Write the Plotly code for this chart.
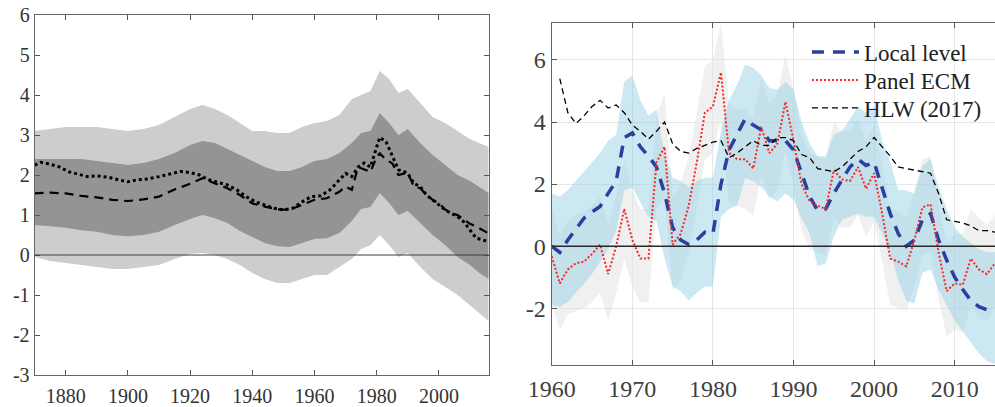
import plotly.graph_objects as go

# ---------------- Left panel data ----------------
band_years = [1870,1875,1880,1885,1890,1895,1900,1905,1910,1915,1920,1924,1928,1932,1936,1940,1944,1948,1952,1956,1960,1964,1968,1972,1975,1978,1981,1984,1987,1990,1994,1998,2002,2006,2010,2013,2016]
light_upper = [3.1,3.15,3.2,3.2,3.2,3.15,3.1,3.15,3.25,3.45,3.65,3.75,3.65,3.5,3.3,3.1,3.1,3.05,3.05,3.2,3.3,3.35,3.5,3.9,4.0,4.1,4.6,4.4,4.05,4.15,3.8,3.45,3.3,3.1,2.9,2.8,2.7]
light_lower = [-0.05,-0.15,-0.2,-0.25,-0.3,-0.35,-0.35,-0.3,-0.25,-0.1,0.03,0.05,0.0,-0.1,-0.25,-0.45,-0.6,-0.7,-0.7,-0.6,-0.5,-0.5,-0.3,-0.1,0.15,0.25,0.5,0.25,-0.05,0.05,-0.3,-0.6,-0.8,-1.0,-1.25,-1.45,-1.65]
dark_upper = [2.4,2.4,2.4,2.4,2.35,2.3,2.25,2.3,2.4,2.55,2.75,2.85,2.8,2.65,2.5,2.35,2.2,2.1,2.1,2.2,2.35,2.4,2.55,2.8,3.05,3.1,3.55,3.3,3.0,3.15,2.8,2.5,2.25,2.0,1.85,1.7,1.55]
dark_lower = [0.75,0.72,0.68,0.62,0.58,0.5,0.47,0.5,0.58,0.75,0.9,1.0,0.92,0.8,0.6,0.45,0.3,0.22,0.2,0.3,0.4,0.42,0.55,0.85,1.15,1.2,1.55,1.3,1.0,1.1,0.8,0.5,0.25,-0.05,-0.25,-0.45,-0.6]

dot_years = [1870,1872,1875,1878,1881,1884,1887,1890,1894,1897,1900,1903,1906,1910,1914,1917,1920,1923,1926,1929,1932,1935,1938,1941,1944,1947,1950,1953,1956,1959,1962,1965,1968,1970,1972,1974,1976,1978,1980,1981,1983,1985,1987,1989,1990,1992,1994,1996,1998,2000,2002,2004,2006,2008,2010,2012,2014,2016]
dot_values = [2.25,2.32,2.27,2.2,2.08,2.02,1.96,1.98,1.94,1.88,1.83,1.88,1.9,1.96,2.04,2.09,2.06,2.0,1.88,1.81,1.75,1.63,1.46,1.33,1.25,1.17,1.13,1.17,1.33,1.46,1.48,1.63,1.88,2.04,1.96,2.2,2.3,2.2,2.7,2.94,2.83,2.46,2.13,2.08,2.04,1.79,1.71,1.5,1.38,1.25,1.13,1.04,0.96,0.83,0.63,0.42,0.38,0.33]

dash_years = [1870,1875,1880,1885,1890,1895,1900,1905,1910,1915,1920,1924,1928,1932,1936,1940,1944,1948,1952,1956,1960,1964,1968,1970,1972,1974,1976,1978,1980,1981,1983,1985,1987,1989,1990,1992,1994,1996,1998,2000,2002,2004,2006,2008,2010,2012,2014,2016]
dash_values = [1.54,1.56,1.54,1.48,1.44,1.38,1.35,1.39,1.46,1.64,1.78,1.92,1.79,1.67,1.5,1.29,1.21,1.14,1.13,1.25,1.38,1.42,1.58,1.71,1.63,2.2,2.13,2.08,2.46,2.54,2.38,2.29,2.0,2.04,2.04,1.71,1.67,1.5,1.38,1.29,1.14,1.04,1.0,0.88,0.78,0.71,0.63,0.54]

left_xticks = [1880, 1900, 1920, 1940, 1960, 1980, 2000]
left_yticks = [-3, -2, -1, 0, 1, 2, 3, 4, 5, 6]

# ---------------- Right panel data ----------------
years_r = list(range(1960, 2016))
local_level = [0.0,-0.2,0.2,0.55,0.9,1.1,1.28,1.7,2.1,3.5,3.65,3.2,2.9,2.55,1.7,0.6,0.2,0.05,0.2,0.45,0.4,2.0,3.1,3.6,4.1,3.9,3.75,3.4,3.4,3.4,3.1,2.35,1.6,1.15,1.2,1.7,2.15,2.55,2.8,2.6,2.7,1.9,1.05,0.4,0.0,0.2,0.85,1.05,0.2,-0.45,-1.0,-1.4,-1.75,-1.95,-2.05,-2.0]
panel_ecm = [-0.33,-1.2,-0.75,-0.55,-0.5,-0.25,0.05,-0.9,0.0,1.2,0.2,-0.4,-0.4,2.7,3.2,0.05,0.4,1.3,2.7,4.3,4.5,5.6,3.0,2.8,2.8,2.5,3.85,3.0,3.3,4.65,3.4,2.0,1.45,1.3,1.2,2.45,2.15,2.1,2.55,1.85,2.35,1.05,-0.4,-0.5,-0.65,0.2,1.25,1.35,-0.2,-1.45,-1.2,-1.25,-0.4,-0.75,-0.9,-0.55]
hlw_years = list(range(1961, 2016))
hlw = [5.4,4.3,3.95,4.2,4.5,4.7,4.45,4.55,4.3,3.9,3.7,3.45,3.7,4.0,3.3,3.05,3.0,3.15,3.25,3.35,3.4,2.85,3.0,3.2,3.4,3.25,3.25,3.5,3.5,3.4,2.95,2.85,2.5,2.45,2.4,2.55,2.8,3.05,3.2,3.5,3.2,2.9,2.55,2.5,2.45,2.4,2.35,1.7,0.85,0.8,0.75,0.65,0.5,0.5,0.45]
ll_upper = [1.7,1.6,1.8,2.1,2.4,2.7,3.0,3.4,3.6,5.3,5.5,4.7,4.2,4.4,2.9,2.2,2.1,1.9,2.1,2.2,2.2,3.7,4.7,5.2,5.85,5.75,5.5,5.1,5.05,5.3,5.05,4.0,3.3,2.9,2.9,3.6,3.7,4.1,4.5,4.3,4.5,3.4,2.7,1.8,1.8,1.7,2.6,2.8,1.9,1.2,0.6,0.3,0.1,-0.1,-0.2,-0.2]
ll_lower = [-1.9,-1.95,-1.8,-1.5,-1.2,-0.9,-0.5,-0.1,0.5,1.8,1.9,1.4,0.95,0.8,-0.4,-1.3,-1.45,-1.75,-1.5,-1.3,-1.3,0.95,1.2,1.3,2.2,2.1,1.9,1.6,1.45,1.7,1.5,0.9,0.4,-0.65,-0.55,0.3,0.85,0.95,1.05,0.95,0.95,0.4,-0.2,-1.1,-1.75,-1.85,-0.85,-0.75,-1.4,-1.9,-2.4,-2.75,-3.1,-3.45,-3.7,-3.8]
ecm_upper = [1.2,0.4,0.8,1.0,1.1,1.3,1.6,0.7,1.6,2.8,1.8,1.2,1.2,4.2,4.9,1.6,2.0,2.9,4.3,5.8,6.0,7.2,4.6,4.4,4.4,4.1,5.4,4.6,4.9,6.2,5.0,3.6,3.0,2.9,2.8,4.0,3.7,3.7,4.1,3.4,3.9,2.6,1.2,1.1,0.9,1.8,2.8,2.9,1.4,0.1,0.4,0.4,1.2,0.9,0.7,1.0]
ecm_lower = [-1.9,-2.7,-2.2,-2.1,-2.0,-1.8,-1.5,-2.4,-1.5,-0.4,-1.3,-1.8,-1.8,1.2,1.6,-1.4,-1.1,-0.2,1.2,2.8,3.0,4.1,1.4,1.3,1.2,1.0,2.3,1.5,1.8,3.1,1.9,0.5,-0.1,-0.2,-0.3,0.9,0.6,0.6,1.0,0.3,0.8,-0.5,-1.9,-2.0,-2.1,-1.3,-0.3,-0.2,-1.7,-2.9,-2.7,-2.8,-1.9,-2.3,-2.4,-2.0]

right_xticks = [1960, 1970, 1980, 1990, 2000, 2010]
right_yticks = [-2, 0, 2, 4, 6]

SERIF = "Liberation Serif"

fig = go.Figure()

def band(x, lo, hi, color, xa, ya):
    return go.Scatter(x=list(x) + list(x)[::-1], y=list(hi) + list(lo)[::-1],
                      fill="toself", fillcolor=color, line=dict(width=0),
                      mode="lines", hoverinfo="skip", showlegend=False,
                      xaxis=xa, yaxis=ya)

# Left panel
fig.add_trace(band(band_years, light_lower, light_upper, "rgb(205,205,205)", "x", "y"))
fig.add_trace(band(band_years, dark_lower, dark_upper, "rgb(148,148,148)", "x", "y"))
fig.add_trace(go.Scatter(x=dash_years, y=dash_values, mode="lines",
                         line=dict(color="black", width=2.2, dash="9px,6px"),
                         showlegend=False, xaxis="x", yaxis="y"))
fig.add_trace(go.Scatter(x=dot_years, y=dot_values, mode="lines",
                         line=dict(color="black", width=3, dash="3px,3px"),
                         showlegend=False, xaxis="x", yaxis="y"))

# Right panel
fig.add_trace(band(years_r, ecm_lower, ecm_upper, "rgba(225,225,225,0.5)", "x2", "y2"))
fig.add_trace(band(years_r, ll_lower, ll_upper, "rgba(140,205,228,0.45)", "x2", "y2"))
fig.add_trace(go.Scatter(x=years_r, y=local_level, mode="lines", name="Local level",
                         line=dict(color="rgb(40,65,160)", width=3.5, dash="12px,9px"),
                         xaxis="x2", yaxis="y2", legend="legend"))
fig.add_trace(go.Scatter(x=years_r, y=panel_ecm, mode="lines", name="Panel ECM",
                         line=dict(color="rgb(245,40,40)", width=2, dash="2px,2px"),
                         xaxis="x2", yaxis="y2", legend="legend2"))
fig.add_trace(go.Scatter(x=hlw_years, y=hlw, mode="lines", name="HLW (2017)",
                         line=dict(color="black", width=1.3, dash="6px,4px"),
                         xaxis="x2", yaxis="y2", legend="legend3"))

fig.add_shape(type="line", xref="x domain", yref="y", x0=0, x1=1, y0=0, y1=0,
              line=dict(color="rgb(60,60,60)", width=1), layer="above")
fig.add_shape(type="line", xref="x2 domain", yref="y2", x0=0, x1=1, y0=0, y1=0,
              line=dict(color="rgb(40,40,40)", width=1.5), layer="above")

def fmt(v):
    return str(v)

leg_common = dict(xanchor="left", yanchor="middle", bgcolor="rgba(0,0,0,0)", borderwidth=0,
                  itemwidth=47, font=dict(family=SERIF, size=23, color="#222"))
LEG_X = 0.811

fig.update_layout(
    width=995, height=407,
    margin=dict(l=0, r=0, t=0, b=0),
    paper_bgcolor="white", plot_bgcolor="white",
    xaxis=dict(domain=[0.0348, 0.4911], range=[1870, 2016], tickvals=left_xticks,
               ticktext=[fmt(v) for v in left_xticks], automargin=False,
               ticks="inside", ticklen=5, tickcolor="#555", mirror="ticks",
               ticklabelstandoff=3,
               showline=True, linecolor="#666", linewidth=1, showgrid=False, zeroline=False,
               tickfont=dict(family=SERIF, size=20, color="#333")),
    yaxis=dict(domain=[0.0786, 0.9631], range=[-3, 6], tickvals=left_yticks,
               ticktext=[fmt(v) for v in left_yticks], automargin=False,
               ticks="inside", ticklen=5, tickcolor="#555", mirror="ticks",
               showline=True, linecolor="#666", linewidth=1, showgrid=False, zeroline=False,
               tickfont=dict(family=SERIF, size=20, color="#333")),
    xaxis2=dict(domain=[0.5545, 1.0], range=[1960, 2015], tickvals=right_xticks,
                ticktext=[fmt(v) for v in right_xticks], anchor="y2", automargin=False,
                ticks="inside", ticklen=5, tickcolor="#555", mirror="ticks",
                ticklabelstandoff=2,
                showline=True, linecolor="#666", linewidth=1.2,
                showgrid=True, gridcolor="#e6e6e6", zeroline=False,
                tickfont=dict(family=SERIF, size=24, color="#404040")),
    yaxis2=dict(domain=[0.1032, 0.9442], range=[-3.83, 7.2], tickvals=right_yticks,
                ticktext=[fmt(v) for v in right_yticks], anchor="x2", automargin=False,
                ticks="inside", ticklen=5, tickcolor="#555",
                showline=True, linecolor="#666", linewidth=1.2,
                showgrid=True, gridcolor="#e6e6e6", zeroline=False,
                tickfont=dict(family=SERIF, size=24, color="#404040")),
    legend=dict(x=LEG_X, y=1 - 52 / 407, **leg_common),
    legend2=dict(x=LEG_X, y=1 - 80 / 407, **leg_common),
    legend3=dict(x=LEG_X, y=1 - 108 / 407, **leg_common),
    showlegend=True,
)

fig.write_html("out.html")
